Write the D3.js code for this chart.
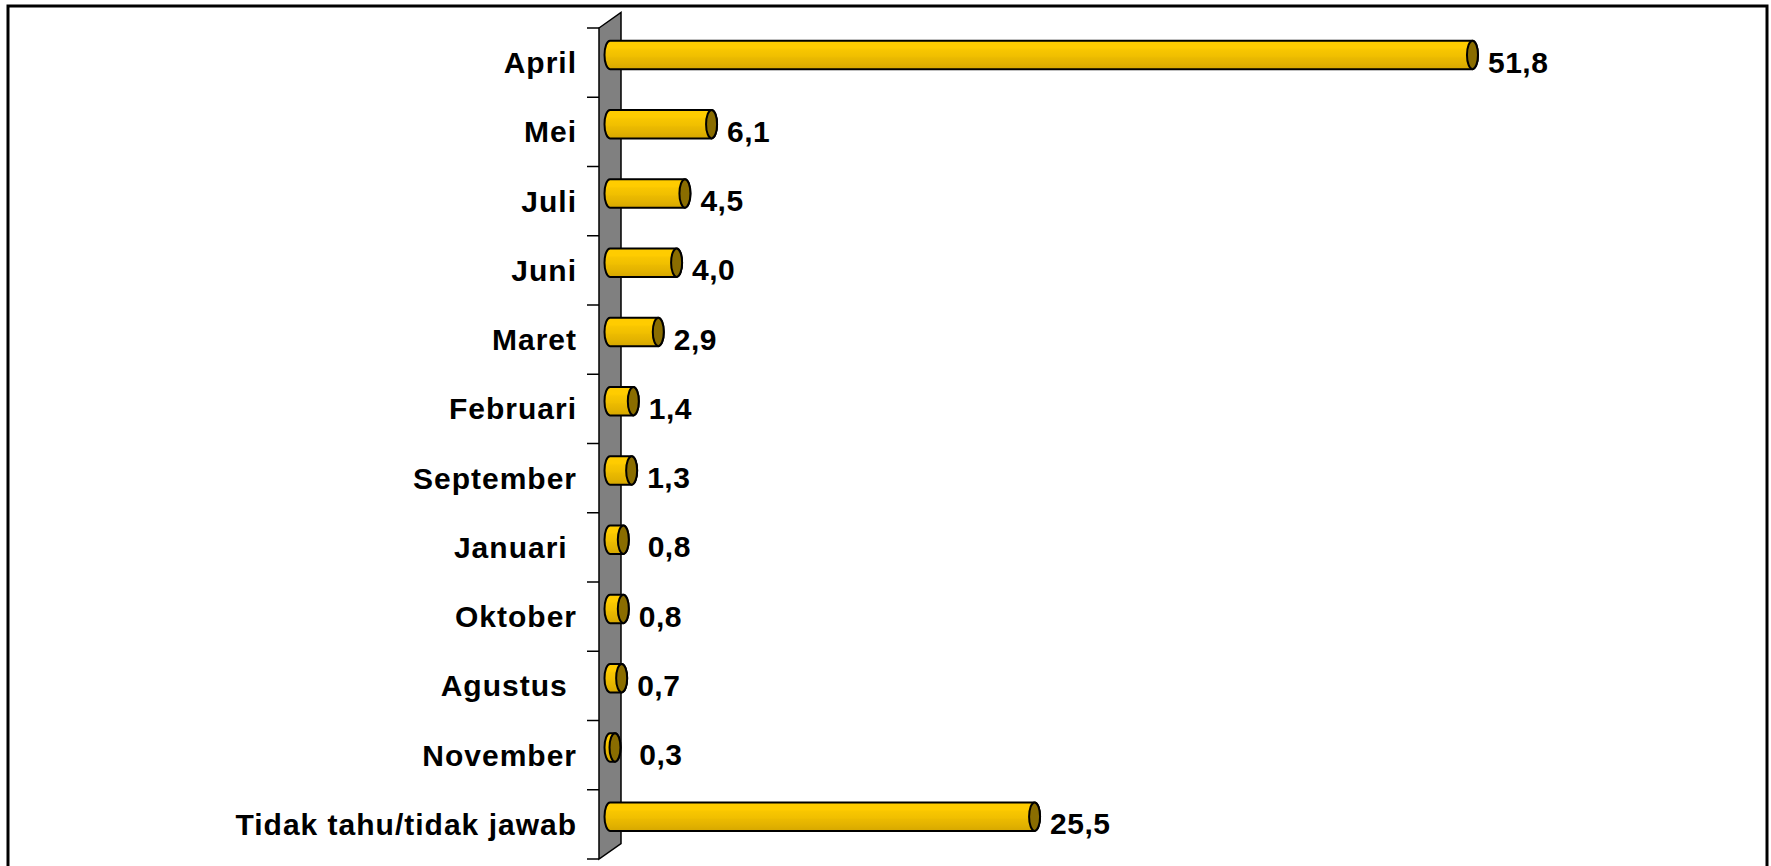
<!DOCTYPE html>
<html>
<head>
<meta charset="utf-8">
<script src="https://cdn.jsdelivr.net/npm/d3@7"></script>
<style>
  html, body { margin: 0; padding: 0; background: #fff; }
  svg { display: block; }
  text { font-family: "Liberation Sans", Arial, sans-serif; font-weight: bold; fill: #000; white-space: pre; }
</style>
</head>
<body>
<script>
// ---- data ----
const categories = ["April", "Mei", "Juli", "Juni", "Maret", "Februari", "September",
                    "Januari ", "Oktober", "Agustus ", "November", "Tidak tahu/tidak jawab"];
const values = [51.8, 6.1, 4.5, 4.0, 2.9, 1.4, 1.3, 0.8, 0.8, 0.7, 0.3, 25.5];
const valueLabels = ["51,8", "6,1", "4,5", "4,0", "2,9", "1,4", "1,3", " 0,8", "0,8", "0,7", " 0,3", "25,5"];
const xDomain = [0, 60];

// ---- layout ----
const W = 1771, H = 866;
const axisX = 599, axisTop = 28, axisBottom = 859;
const depthX = 22, depthY = -15.5;
const barRy = 14.25, capRx = 5.5;

const svg = d3.select("body").append("svg").attr("width", W).attr("height", H);

const defs = svg.append("defs");
const grad = defs.append("linearGradient").attr("id", "barGrad")
  .attr("x1", 0).attr("y1", 0).attr("x2", 0).attr("y2", 1);
[[0, "#FFCC00"], [0.25, "#FFCC00"], [0.32, "#F8C600"], [0.55, "#F0BF00"],
 [0.6, "#EBBA00"], [0.8, "#E2B200"], [1, "#D6A700"]].forEach(([o, c]) =>
  grad.append("stop").attr("offset", o).attr("stop-color", c));

// frame
svg.append("rect").attr("x", 8).attr("y", 6).attr("width", 1759).attr("height", 900)
  .attr("fill", "none").attr("stroke", "#000").attr("stroke-width", 3);

const x = d3.scaleLinear().domain(xDomain).range([axisX, 1598]);
const y = d3.scaleBand().domain(categories).range([axisTop, axisBottom]).padding(0);

// wall (3D side)
svg.append("path")
  .attr("d", `M${axisX},${axisTop} L${axisX + depthX},${axisTop + depthY} L${axisX + depthX},${axisBottom + depthY} L${axisX},${axisBottom} Z`)
  .attr("fill", "#808080").attr("stroke", "#000").attr("stroke-width", 1.5);

// tick marks at band boundaries
const bounds = categories.map(c => y(c)).concat([axisBottom]);
svg.append("g").selectAll("line").data(bounds).join("line")
  .attr("x1", axisX - 12).attr("x2", axisX)
  .attr("y1", d => d).attr("y2", d => d)
  .attr("stroke", "#000").attr("stroke-width", 1.5);

// category labels via axis
const ax = svg.append("g").attr("transform", `translate(${axisX},0)`)
  .call(d3.axisLeft(y).tickSize(0).tickPadding(22));
ax.select(".domain").remove();
ax.selectAll("text")
  .attr("font-family", "Liberation Sans, Arial, sans-serif")
  .attr("font-weight", "bold")
  .attr("font-size", 30)
  .attr("letter-spacing", 1)
  .attr("fill", "#000")
  .attr("dy", "0.35em")
  .style("white-space", "pre");

// bars
const rows = categories.map((c, i) => ({ c, v: values[i], label: valueLabels[i] }));
const cyOf = d => y(d.c) + y.bandwidth() / 2 + depthY / 2;
const x0Of = () => x(0) + depthX / 2;
const x1Of = d => x(d.v) + depthX / 2;

const bars = svg.append("g");
bars.selectAll("path.body").data(rows).join("path")
  .attr("class", "body")
  .attr("d", d => {
    const a = x0Of(), b = x1Of(d), cy = cyOf(d);
    return `M${a},${cy - barRy} L${b},${cy - barRy} A${capRx},${barRy} 0 0 1 ${b},${cy + barRy} ` +
           `L${a},${cy + barRy} A${capRx},${barRy} 0 0 1 ${a},${cy - barRy} Z`;
  })
  .attr("fill", "url(#barGrad)").attr("stroke", "#000").attr("stroke-width", 2);

bars.selectAll("ellipse").data(rows).join("ellipse")
  .attr("cx", d => x1Of(d)).attr("cy", d => cyOf(d))
  .attr("rx", capRx).attr("ry", barRy)
  .attr("fill", "#8A6D00").attr("stroke", "#000").attr("stroke-width", 2);

// value labels
svg.append("g").selectAll("text").data(rows).join("text")
  .attr("x", d => x1Of(d) + capRx + 10)
  .attr("y", d => y(d.c) + y.bandwidth() / 2)
  .attr("dy", "0.33em")
  .attr("font-size", 30)
  .attr("letter-spacing", 0.5)
  .text(d => d.label);
</script>
</body>
</html>
